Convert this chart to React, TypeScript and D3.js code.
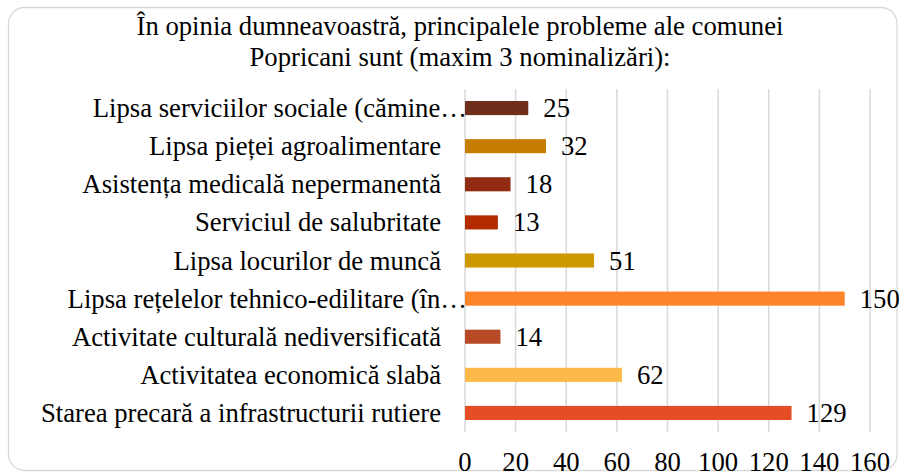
import React from 'react';
import * as d3 from 'd3';

// categories top -> bottom, as shown in the chart
const categories: string[] = [
  'Lipsa serviciilor sociale (cămine…',
  'Lipsa pieței agroalimentare',
  'Asistența medicală nepermanentă',
  'Serviciul de salubritate',
  'Lipsa locurilor de muncă',
  'Lipsa rețelelor tehnico-edilitare (în…',
  'Activitate culturală nediversificată',
  'Activitatea economică slabă',
  'Starea precară a infrastructurii rutiere',
];
const values: number[] = [25, 32, 18, 13, 51, 150, 14, 62, 129];
const barColors: string[] = [
  '#6d2e1b', '#c77e00', '#912b11', '#b42b00', '#cd9800',
  '#fe8429', '#b84a28', '#fdb948', '#e54e25',
];
const xTicks: number[] = [0, 20, 40, 60, 80, 100, 120, 140, 160];
const titleLines: string[] = [
  'În opinia dumneavoastră, principalele probleme ale comunei',
  'Popricani sunt (maxim 3 nominalizări):',
];

const W = 899;
const H = 476;
const FS = 26.7;
const txt = { fontFamily: "'Liberation Serif', 'Times New Roman', 'DejaVu Serif', serif" };

export default function App() {
  const x = d3.scaleLinear().domain([0, 160]).range([465, 870]);
  const y = d3
    .scaleBand<string>()
    .domain(categories)
    .range([89, 432])
    .paddingInner(0.63)
    .paddingOuter(0.315);

  const plotTop = 89;
  const plotBottom = 432;

  return (
    <svg width={W} height={H} style={{ position: 'absolute', left: 0, top: 0, background: '#fff' }}>
      {/* chart frame */}
      <rect x={8.5} y={7.5} width={888.5} height={463} rx={16} fill="#fff" stroke="#d9d9d9" strokeWidth={1.3} />

      {/* title */}
      <g fontSize={FS} fill="#000" textAnchor="middle">
        {titleLines.map((t, i) => (
          <text key={i} x={460} y={35 + i * 31} style={txt}>
            {t}
          </text>
        ))}
      </g>

      {/* gridlines */}
      <g className="grid">
        {xTicks.map((t) => (
          <line key={t} x1={x(t)} x2={x(t)} y1={plotTop} y2={plotBottom} stroke="#d9d9d9" strokeWidth={1.5} />
        ))}
      </g>

      {/* bars */}
      <g className="bars">
        {categories.map((c, i) => (
          <rect
            key={c}
            x={x(0)}
            y={y(c)!}
            width={x(values[i]) - x(0)}
            height={y.bandwidth()}
            fill={barColors[i]}
          />
        ))}
      </g>

      {/* value labels */}
      <g fontSize={FS} fill="#000">
        {categories.map((c, i) => (
          <text key={c} style={txt} x={x(values[i]) + 15} y={y(c)! + y.bandwidth() / 2 + 9}>
            {values[i]}
          </text>
        ))}
      </g>

      {/* category labels */}
      <g fontSize={FS} fill="#000" textAnchor="end">
        {categories.map((c) => (
          <text key={c} style={txt} x={c.endsWith('…') ? 467 : 441} y={y(c)! + y.bandwidth() / 2 + 9}>
            {c}
          </text>
        ))}
      </g>

      {/* x tick labels */}
      <g fontSize={FS} fill="#000" textAnchor="middle">
        {xTicks.map((t) => (
          <text key={t} style={txt} x={x(t)} y={471}>
            {t}
          </text>
        ))}
      </g>
    </svg>
  );
}
